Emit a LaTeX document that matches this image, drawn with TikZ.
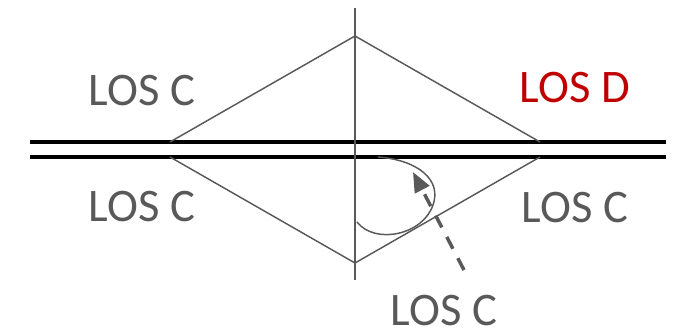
\documentclass[tikz,border=0pt]{standalone}
\usepackage{fontspec}
\setmainfont{Carlito}
\usetikzlibrary{arrows.meta,positioning}
\definecolor{losgray}{HTML}{595959}
\definecolor{losred}{HTML}{C00000}

\begin{document}
\begin{tikzpicture}[
  x=0.75pt, y=-0.75pt,
  lbl/.style={anchor=base, font=\fontsize{35}{40}\selectfont, text=losgray, inner sep=0pt},
  road/.style={line width=3pt, black},
  thin/.style={line width=1.1pt, losgray},
  turn/.style={-{Triangle[length=15pt, width=12pt]}, line width=2.6pt, losgray,
               dash pattern=on 10pt off 8pt}
]
\useasboundingbox (0,0) rectangle (676,334);
% road
\draw[road] (30,142) -- (666,142);
\draw[road] (30,157) -- (666,157);
% axis
\coordinate (vtop) at (355,8);
\coordinate (vbot) at (355,280);
\draw[thin] (vtop) -- (vbot);
% diamond
\coordinate (ul) at (170,142);
\coordinate (ut) at (355,36);
\coordinate (ur) at (540,142);
\coordinate (ll) at (170,157);
\coordinate (lb) at (355,263);
\coordinate (lr) at (540,157);
\draw[thin] (ul) -- (ut) -- (ur);
\draw[thin] (ll) -- (lb) -- (lr);
% loop
\coordinate (cs) at (378,157);
\coordinate (ce) at (357,222);
\draw[thin] (cs) .. controls (418,160) and (442,180) .. (433,205)
  .. controls (423,235) and (375,245) .. (ce);
% labels
\node[lbl] (ctl) at (142,106) {LOS C};
\node[lbl, text=losred] (dtr) at (575,103) {LOS D};
\node[lbl] (cbl) at (142,222) {LOS C};
\node[lbl] (cbr) at (575,223) {LOS C};
\node[lbl] (cbot) at (444,326) {LOS C};
% turning movement
\coordinate (tail) at (464,270);
\coordinate (head) at (413,172);
\draw[turn] (tail) -- (head);
\end{tikzpicture}
\end{document}
